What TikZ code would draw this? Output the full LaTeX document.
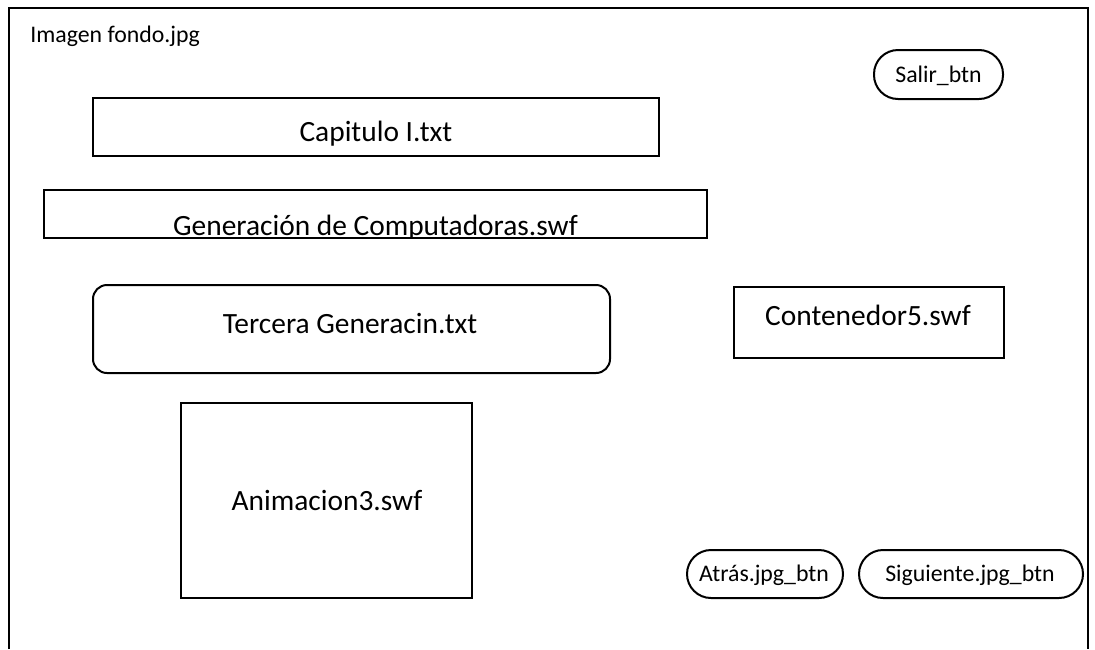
\documentclass[tikz,border=0pt]{standalone}
\usepackage{fontspec}
\setmainfont{Carlito}
\begin{document}
\begin{tikzpicture}[x=0.5pt,y=-0.5pt,
  boxst/.style={draw, line width=1pt, inner sep=0pt, outer sep=0pt},
  pill/.style={boxst, rounded corners=12pt},
  roundbox/.style={boxst, rounded corners=7pt},
  smalltxt/.style={inner sep=0pt, anchor=base, font=\fontsize{11.9pt}{14pt}\selectfont},
  bigtxt/.style={inner sep=0pt, anchor=base, font=\fontsize{14.7pt}{17pt}\selectfont}]
\useasboundingbox (0,0) rectangle (1095,649);
% outer frame (open at the bottom)
\coordinate (fbl) at (9,649);
\coordinate (ftl) at (9,8);
\coordinate (ftr) at (1088,8);
\coordinate (fbr) at (1088,649);
\draw[line width=1pt] (fbl) -- (ftl) -- (ftr) -- (fbr);
\node[smalltxt, anchor=base west] (fondo) at (30,42) {Imagen fondo.jpg};
% boxes
\node[pill, minimum width=64.5pt, minimum height=24.5pt] (salir) at (938.5,74.5) {};
\node[smalltxt] (salirt) at (938.5,82) {Salir\_btn};
\node[boxst, minimum width=283pt, minimum height=29pt] (cap) at (376,127) {};
\node[bigtxt] (capt) at (376,141) {Capitulo I.txt};
\node[boxst, minimum width=331.5pt, minimum height=24pt] (gen) at (375.5,214) {};
\begin{scope}
  \clip (gen.south west) rectangle (gen.north east);
  \node[bigtxt] (gent) at (375.5,235) {Generación de Computadoras.swf};
\end{scope}
\node[roundbox, minimum width=258.5pt, minimum height=44pt] (terc) at (351.5,329) {};
\node[bigtxt] (terct) at (350,333) {Tercera Generacin.txt};
\node[boxst, minimum width=135pt, minimum height=35.5pt] (cont) at (869,322.5) {};
\node[bigtxt] (contt) at (868,325) {Contenedor5.swf};
\node[boxst, minimum width=145.5pt, minimum height=97.5pt] (anim) at (326.5,500.5) {};
\node[bigtxt] (animt) at (327,510) {Animacion3.swf};
\node[pill, minimum width=78pt, minimum height=24pt] (atras) at (765,574) {};
\node[smalltxt] (atrast) at (764,581.5) {Atrás.jpg\_btn};
\node[pill, minimum width=112pt, minimum height=24pt] (sig) at (971,574) {};
\node[smalltxt] (sigt) at (970,581.5) {Siguiente.jpg\_btn};
\end{tikzpicture}
\end{document}
